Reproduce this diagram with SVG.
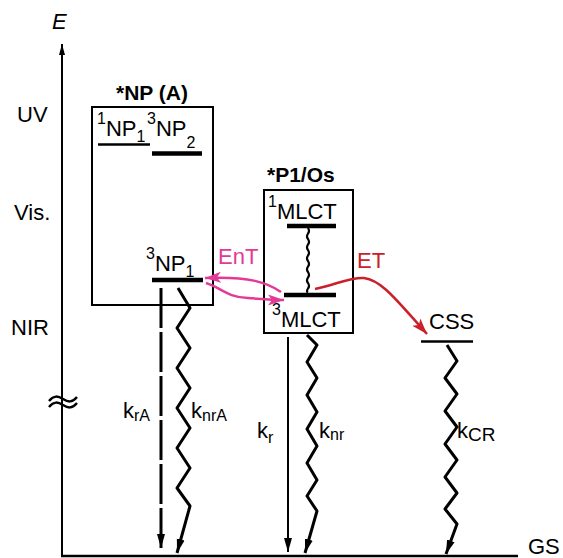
<svg xmlns="http://www.w3.org/2000/svg" width="563" height="558" viewBox="0 0 563 558">
<style>
.t{font-family:"Liberation Sans",Arial,sans-serif;font-size:22px;fill:#000}
.b{font-weight:bold;font-size:21px}
.s{font-size:16px}
.k{font-family:"Liberation Sans",Arial,sans-serif;font-size:22px;fill:#000}
.box{fill:none;stroke:#000;stroke-width:2}
.lvl{stroke:#000;stroke-width:4.5}
.lvlt{stroke:#000;stroke-width:2.5}
.zz{fill:none;stroke:#000;stroke-width:3;stroke-linejoin:round}
.ln{fill:none;stroke:#000;stroke-width:2}
.pk{fill:none;stroke:#e23a96;stroke-width:2.5}
.rd{fill:none;stroke:#c9202a;stroke-width:2.5}
</style>
<defs>
<marker id="ah" markerUnits="userSpaceOnUse" markerWidth="16" markerHeight="10" refX="14" refY="5" orient="auto"><path d="M0,1 L14,5 L0,9 z" fill="#000"/></marker>
<marker id="ax" markerUnits="userSpaceOnUse" markerWidth="12" markerHeight="8" refX="11" refY="4" orient="auto"><path d="M0,1 L11,4 L0,7 z" fill="#000"/></marker>
<marker id="ap" markerUnits="userSpaceOnUse" markerWidth="18" markerHeight="12" refX="16" refY="6" orient="auto"><path d="M0,0.5 L16,6 L0,11.5 L4,6 z" fill="#e23a96"/></marker>
<marker id="ar" markerUnits="userSpaceOnUse" markerWidth="18" markerHeight="12" refX="16" refY="6" orient="auto"><path d="M0,0.5 L16,6 L0,11.5 L4,6 z" fill="#c9202a"/></marker>
</defs>

<g id="axis">
<path class="ln" d="M62,556 L62,44" marker-end="url(#ax)"/>
<path d="M61,556 L518,556" stroke="#000" stroke-width="2.5"/>
<path d="M49,401 C54,395 58,396 63,399 C68,402 72,403 77,397" fill="none" stroke="#000" stroke-width="2.5"/>
<path d="M49,407 C54,401 58,402 63,405 C68,408 72,409 77,403" fill="none" stroke="#000" stroke-width="2.5"/>
<text class="t" x="52" y="29" font-style="italic">E</text>
<text class="t" x="17" y="122">UV</text>
<text class="t" x="14" y="220">Vis.</text>
<text class="t" x="11" y="335">NIR</text>
<text class="t" x="528" y="554">GS</text>
</g>

<g id="NP">
<rect class="box" x="92" y="107" width="121" height="198"/>
<text class="t b" x="152" y="100" text-anchor="middle">*NP (A)</text>
<text class="t" x="97" y="136"><tspan class="s" dy="-12">1</tspan><tspan dy="12">NP</tspan><tspan class="s" dy="6">1</tspan></text>
<text class="t" x="147" y="136"><tspan class="s" dy="-12">3</tspan><tspan dy="12">NP</tspan><tspan class="s" dy="12">2</tspan></text>
<line class="lvlt" x1="98" y1="144.5" x2="150" y2="144.5"/>
<line class="lvl" x1="152" y1="153.5" x2="202" y2="153.5"/>
<text class="t" x="146" y="271"><tspan class="s" dy="-12">3</tspan><tspan dy="12">NP</tspan><tspan class="s" dy="6">1</tspan></text>
<line class="lvl" x1="152" y1="280" x2="203" y2="280"/>
</g>

<g id="P1Os">
<rect class="box" x="264" y="190" width="89" height="143"/>
<text class="t b" x="267" y="182">*P1/Os</text>
<text class="t" x="268" y="219"><tspan class="s" dy="-12">1</tspan><tspan dy="12">MLCT</tspan></text>
<line class="lvl" x1="287" y1="226" x2="336" y2="226"/>
<line class="lvl" x1="284" y1="295" x2="336" y2="295"/>
<text class="t" x="272" y="327"><tspan class="s" dy="-12">3</tspan><tspan dy="12">MLCT</tspan></text>
<path d="M308,228 q2,3 0,5.5 q-2,3 0,5.5 q2,3 0,5.5 q-2,3 0,5.5 q2,3 0,5.5 q-2,3 0,5.5 q2,3 0,5.5 q-2,3 0,5.5 q2,3 0,5.5 q-2,3 0,5.5 q2,3 0,5.5 q-2,3 0,4" fill="none" stroke="#000" stroke-width="2.2"/>
</g>

<g id="CSS">
<text class="t" x="429" y="329">CSS</text>
<line class="lvlt" x1="421" y1="341.5" x2="473" y2="341.5"/>
</g>

<g id="connectors">
<path d="M161,288 L161,548" fill="none" stroke="#000" stroke-width="3" stroke-dasharray="40 4" marker-end="url(#ah)"/>
<path class="zz" d="M178,288 L190,308 L177,328 L190,348 L177,368 L190,388 L177,408 L190,428 L177,448 L190,468 L177,488 L190,506 L177,553" marker-end="url(#ah)"/>
<path class="ln" d="M288,337 L288,552" marker-end="url(#ah)"/>
<path class="zz" d="M307,335 L317,345 L307,362 L317,378 L307,395 L317,412 L307,429 L317,446 L307,463 L317,480 L307,496 L317,511 L305,553" marker-end="url(#ah)"/>
<path class="zz" d="M447,345 L457,361 L445,378 L457,394 L445,411 L457,427 L445,444 L457,460 L445,477 L457,493 L445,509 L457,524 L446,554" marker-end="url(#ah)"/>
<path class="pk" d="M281,292 C268,283 250,276 205,278" marker-end="url(#ap)"/>
<path class="pk" d="M206,283 C222,288 226,297 248,298 C262,299 270,300 284,300" marker-end="url(#ap)"/>
<path class="rd" d="M315,289 C335,285 350,277 364,278 C382,280 398,302 427,334" marker-end="url(#ar)"/>
<text class="t" x="218" y="264" style="fill:#e23a96">EnT</text>
<text class="t" x="357" y="268" style="fill:#c9202a">ET</text>
<text class="k" x="123" y="418">k<tspan class="s" dy="3">rA</tspan></text>
<text class="k" x="191" y="418">k<tspan class="s" dy="3">nrA</tspan></text>
<text class="k" x="257" y="438">k<tspan class="s" dy="5">r</tspan></text>
<text class="k" x="319" y="438">k<tspan class="s" dy="2">nr</tspan></text>
<text class="k" x="457" y="438">k<tspan dy="3" font-size="19">CR</tspan></text>
</g>
</svg>
